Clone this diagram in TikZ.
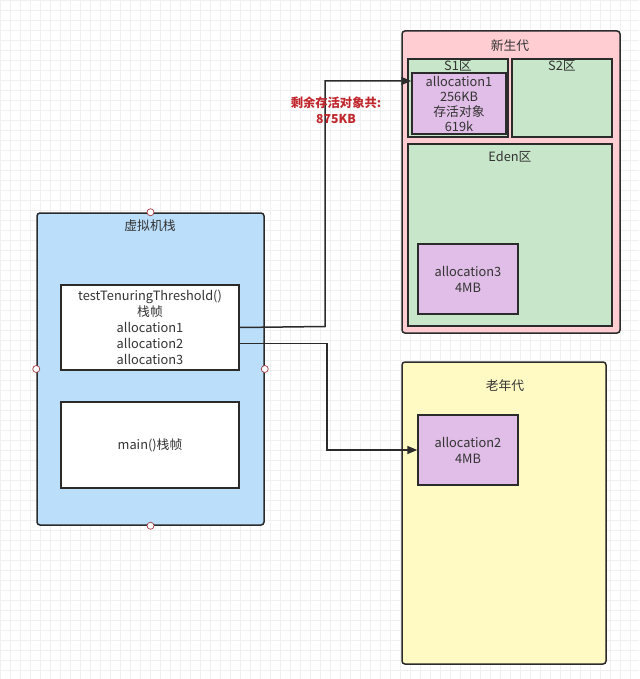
\documentclass[tikz,border=0pt]{standalone}
\usepackage{fontspec}
\setmainfont{Noto Sans CJK SC}
\usetikzlibrary{arrows.meta}
\definecolor{linec}{HTML}{2B2B2B}
\definecolor{txtc}{HTML}{333333}
\definecolor{pinkc}{HTML}{FFCDD2}
\definecolor{greenc}{HTML}{C8E6C9}
\definecolor{purplec}{HTML}{E1BEE7}
\definecolor{bluec}{HTML}{BBDEFB}
\definecolor{yellowc}{HTML}{FFF9C4}
\definecolor{redc}{HTML}{C0282E}
\definecolor{gridc}{HTML}{F0F0F0}
\definecolor{markc}{HTML}{A0393F}
\begin{document}
\begin{tikzpicture}[x=1pt,y=-1pt,
  box/.style={draw=linec,line width=1.5pt,inner sep=0pt,text=txtc,align=center,
    font=\fontsize{12.8}{16}\selectfont},
  region/.style={box,rounded corners=3pt},
  ttl/.style={inner sep=0pt,text=txtc,font=\fontsize{12.8}{16}\selectfont},
  conn/.style={draw=linec,line width=1.5pt},
  arr/.style={conn,-{Triangle[length=10pt,width=8pt]}},
  marker/.style={circle,draw=markc,fill=white,line width=0.7pt,inner sep=0pt,minimum size=7pt}
]
\useasboundingbox (0,0) rectangle (639,679);
\fill[white] (0,0) rectangle (639,679);
\foreach \i in {0,10,...,630} {\draw[gridc,line width=0.5pt] (\i,0) -- (\i,679);}
\foreach \j in {0,10,...,670} {\draw[gridc,line width=0.5pt] (0,\j) -- (639,\j);}

% young generation
\node[region,fill=pinkc,minimum width=218pt,minimum height=302pt] (young) at (511,182) {};
\node[ttl] (youngt) at (510,46) {新生代};
\node[box,fill=greenc,minimum width=100pt,minimum height=78pt] (s1) at (458,98) {};
\node[ttl] (s1t) at (458,66) {S1区};
\node[box,fill=purplec,minimum width=94pt,minimum height=61pt,font=\fontsize{12.8}{15}\selectfont] (alloc1) at (459,103.5)
  {allocation1\\256KB\\存活对象\\619k};
\node[box,fill=greenc,minimum width=100pt,minimum height=78pt] (s2) at (562,98) {};
\node[ttl] (s2t) at (562,66) {S2区};
\node[box,fill=greenc,minimum width=204pt,minimum height=182pt] (eden) at (510,235) {};
\node[ttl] (edent) at (510,157) {Eden区};
\node[box,fill=purplec,minimum width=100pt,minimum height=70pt] (alloc3) at (468,279) {allocation3\\4MB};

% old generation
\node[region,fill=yellowc,minimum width=204pt,minimum height=302pt] (old) at (504,513) {};
\node[ttl] (oldt) at (505,386) {老年代};
\node[box,fill=purplec,minimum width=100pt,minimum height=70pt] (alloc2) at (468,450) {allocation2\\4MB};

% JVM stack
\node[region,fill=bluec,minimum width=227pt,minimum height=312pt] (stack) at (150.5,369) {};
\node[ttl] (stackt) at (150,226) {虚拟机栈};
\node[box,fill=white,minimum width=178pt,minimum height=85pt] (frame) at (150,327.5)
  {testTenuringThreshold()\\栈帧\\allocation1\\allocation2\\allocation3};
\node[box,fill=white,minimum width=178pt,minimum height=86pt] (mainf) at (150,445) {main()栈帧};
\node[marker] (m1) at (stack.north) {};
\node[marker] (m2) at (stack.west) {};
\node[marker] (m3) at (stack.east) {};
\node[marker] (m4) at (stack.south) {};

% connectors
\draw[arr] (frame.east) -- (325,326.5) |- ([yshift=22.5pt]alloc1.west);
\draw[arr] ([yshift=-16pt]frame.east) -- (327,343.5) |- (alloc2.west);
\node[inner sep=0pt,text=redc,align=center,font=\bfseries\fontsize{12.3}{16}\selectfont] (note) at (336,110)
  {剩余存活对象共:\\875KB};
\end{tikzpicture}
\end{document}
